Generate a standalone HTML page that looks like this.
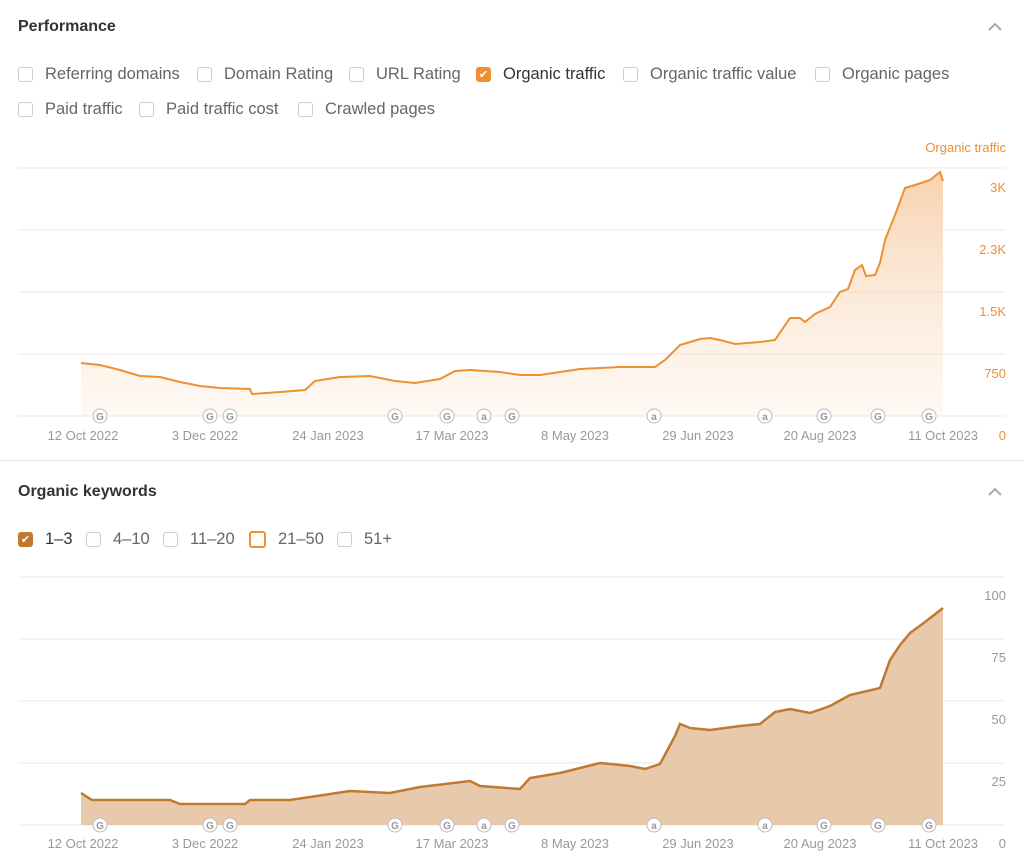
<!DOCTYPE html>
<html><head><meta charset="utf-8"><style>
body{margin:0;width:1024px;height:865px;background:#fff;font-family:"Liberation Sans",sans-serif;position:relative;overflow:hidden}
.t{position:absolute;font-weight:bold;font-size:16px;color:#333}
.cb{position:absolute;font-size:16.5px;color:#666;display:flex;align-items:center}
.cb i{display:inline-block;width:15px;height:15px;border:1px solid #ccc;border-radius:3px;margin-right:12px;box-sizing:border-box}
</style></head><body>
<div class="t" style="left:18px;top:18px">Performance</div>
<div class="t" style="left:18px;top:483px">Organic keywords</div>
<svg style="position:absolute;left:985px;top:20px" width="20" height="14"><path d="M4 10 L10 4 L16 10" stroke="#aaa" stroke-width="2" fill="none"/></svg>
<svg style="position:absolute;left:985px;top:485px" width="20" height="14"><path d="M4 10 L10 4 L16 10" stroke="#aaa" stroke-width="2" fill="none"/></svg>
<div class="cb" style="left:18px;top:65px"><i></i>Referring domains</div>
<div class="cb" style="left:197px;top:65px"><i></i>Domain Rating</div>
<div class="cb" style="left:349px;top:65px"><i></i>URL Rating</div>
<div class="cb" style="left:476px;top:65px;color:#333"><i style="background:#ef8f33;border-color:#ef8f33;color:#fff;font-size:11px;text-align:center;line-height:15px;font-style:normal">✔</i>Organic traffic</div>
<div class="cb" style="left:623px;top:65px"><i></i>Organic traffic value</div>
<div class="cb" style="left:815px;top:65px"><i></i>Organic pages</div>
<div class="cb" style="left:18px;top:100px"><i></i>Paid traffic</div>
<div class="cb" style="left:139px;top:100px"><i></i>Paid traffic cost</div>
<div class="cb" style="left:298px;top:100px"><i></i>Crawled pages</div>
<div class="cb" style="left:18px;top:530px;color:#333"><i style="background:#c07a30;border-color:#c07a30;color:#fff;font-size:11px;text-align:center;line-height:15px;font-style:normal">✔</i>1–3</div>
<div class="cb" style="left:86px;top:530px"><i></i>4–10</div>
<div class="cb" style="left:163px;top:530px"><i></i>11–20</div>
<div class="cb" style="left:249px;top:530px"><i style="border:2px solid #ef8f33;width:17px;height:17px"></i>21–50</div>
<div class="cb" style="left:337px;top:530px"><i></i>51+</div>
<div style="position:absolute;left:0;top:460px;width:1024px;height:1px;background:#e6e6e6"></div>
<svg style="position:absolute;left:0;top:0" width="1024" height="865" font-family="Liberation Sans" font-size="13">
<defs><linearGradient id="g1" x1="0" y1="0" x2="0" y2="1"><stop offset="0" stop-color="#f6c79c" stop-opacity=".8"/><stop offset="1" stop-color="#fde9d8" stop-opacity=".3"/></linearGradient></defs>
<g stroke="#e8e8e8"><line x1="18" x2="1005" y1="168" y2="168"/><line x1="18" x2="1005" y1="230" y2="230"/><line x1="18" x2="1005" y1="292" y2="292"/><line x1="18" x2="1005" y1="354" y2="354"/><line x1="18" x2="1005" y1="416" y2="416"/>
<line x1="18" x2="1005" y1="577" y2="577"/><line x1="18" x2="1005" y1="639" y2="639"/><line x1="18" x2="1005" y1="701" y2="701"/><line x1="18" x2="1005" y1="763" y2="763"/><line x1="18" x2="1005" y1="825" y2="825"/></g>
<polygon fill="url(#g1)" points="81,416 81,363 100,365 120,370 140,376 160,377 180,382 200,386 220,388 250,389 252,394 280,392 305,390 315,381 340,377 370,376 395,381 415,383 440,379 455,371 470,370 500,372 520,375 540,375 560,372 580,369 620,367 655,367 665,360 680,345 700,339 710,338 720,340 735,344 760,342 775,340 790,318 800,318 805,322 815,314 830,307 840,292 848,289 855,270 862,265 866,276 875,275 880,263 885,240 895,215 905,188 915,185 930,180 940,172 943,181 943,416"/>
<polyline fill="none" stroke="#ef8f33" stroke-width="2" points="81,363 100,365 120,370 140,376 160,377 180,382 200,386 220,388 250,389 252,394 280,392 305,390 315,381 340,377 370,376 395,381 415,383 440,379 455,371 470,370 500,372 520,375 540,375 560,372 580,369 620,367 655,367 665,360 680,345 700,339 710,338 720,340 735,344 760,342 775,340 790,318 800,318 805,322 815,314 830,307 840,292 848,289 855,270 862,265 866,276 875,275 880,263 885,240 895,215 905,188 915,185 930,180 940,172 943,181"/>
<polygon fill="#e8c9ab" points="81,825 81,793 92,800 170,800 180,804 245,804 250,800 290,800 310,797 350,791 390,793 420,787 470,781 480,786 520,789 530,778 560,773 600,763 630,766 645,769 660,764 675,736 680,724 690,728 710,730 740,726 760,724 775,712 790,709 810,713 830,706 850,695 880,688 890,660 900,645 910,633 925,622 943,608 943,825"/>
<polyline fill="none" stroke="#c07a30" stroke-width="2.5" points="81,793 92,800 170,800 180,804 245,804 250,800 290,800 310,797 350,791 390,793 420,787 470,781 480,786 520,789 530,778 560,773 600,763 630,766 645,769 660,764 675,736 680,724 690,728 710,730 740,726 760,724 775,712 790,709 810,713 830,706 850,695 880,688 890,660 900,645 910,633 925,622 943,608"/>
<g fill="#ef8f33" text-anchor="end"><text x="1006" y="152">Organic traffic</text><text x="1006" y="192">3K</text><text x="1006" y="254">2.3K</text><text x="1006" y="316">1.5K</text><text x="1006" y="378">750</text><text x="1006" y="440">0</text></g>
<g fill="#999" text-anchor="end"><text x="1006" y="600">100</text><text x="1006" y="662">75</text><text x="1006" y="724">50</text><text x="1006" y="786">25</text><text x="1006" y="848">0</text></g>
<g fill="#999" text-anchor="middle"><text x="83" y="440">12 Oct 2022</text><text x="205" y="440">3 Dec 2022</text><text x="328" y="440">24 Jan 2023</text><text x="452" y="440">17 Mar 2023</text><text x="575" y="440">8 May 2023</text><text x="698" y="440">29 Jun 2023</text><text x="820" y="440">20 Aug 2023</text><text x="943" y="440">11 Oct 2023</text>
<text x="83" y="848">12 Oct 2022</text><text x="205" y="848">3 Dec 2022</text><text x="328" y="848">24 Jan 2023</text><text x="452" y="848">17 Mar 2023</text><text x="575" y="848">8 May 2023</text><text x="698" y="848">29 Jun 2023</text><text x="820" y="848">20 Aug 2023</text><text x="943" y="848">11 Oct 2023</text></g>
<g font-size="10" font-weight="bold" fill="#999" text-anchor="middle">
<g transform="translate(0,416)"><circle cx="100" r="7" fill="#fff" stroke="#bbb"/><text x="100" y="4">G</text><circle cx="210" r="7" fill="#fff" stroke="#bbb"/><text x="210" y="4">G</text><circle cx="230" r="7" fill="#fff" stroke="#bbb"/><text x="230" y="4">G</text><circle cx="395" r="7" fill="#fff" stroke="#bbb"/><text x="395" y="4">G</text><circle cx="447" r="7" fill="#fff" stroke="#bbb"/><text x="447" y="4">G</text><circle cx="484" r="7" fill="#fff" stroke="#bbb"/><text x="484" y="4">a</text><circle cx="512" r="7" fill="#fff" stroke="#bbb"/><text x="512" y="4">G</text><circle cx="654" r="7" fill="#fff" stroke="#bbb"/><text x="654" y="4">a</text><circle cx="765" r="7" fill="#fff" stroke="#bbb"/><text x="765" y="4">a</text><circle cx="824" r="7" fill="#fff" stroke="#bbb"/><text x="824" y="4">G</text><circle cx="878" r="7" fill="#fff" stroke="#bbb"/><text x="878" y="4">G</text><circle cx="929" r="7" fill="#fff" stroke="#bbb"/><text x="929" y="4">G</text></g>
<g transform="translate(0,825)"><circle cx="100" r="7" fill="#fff" stroke="#bbb"/><text x="100" y="4">G</text><circle cx="210" r="7" fill="#fff" stroke="#bbb"/><text x="210" y="4">G</text><circle cx="230" r="7" fill="#fff" stroke="#bbb"/><text x="230" y="4">G</text><circle cx="395" r="7" fill="#fff" stroke="#bbb"/><text x="395" y="4">G</text><circle cx="447" r="7" fill="#fff" stroke="#bbb"/><text x="447" y="4">G</text><circle cx="484" r="7" fill="#fff" stroke="#bbb"/><text x="484" y="4">a</text><circle cx="512" r="7" fill="#fff" stroke="#bbb"/><text x="512" y="4">G</text><circle cx="654" r="7" fill="#fff" stroke="#bbb"/><text x="654" y="4">a</text><circle cx="765" r="7" fill="#fff" stroke="#bbb"/><text x="765" y="4">a</text><circle cx="824" r="7" fill="#fff" stroke="#bbb"/><text x="824" y="4">G</text><circle cx="878" r="7" fill="#fff" stroke="#bbb"/><text x="878" y="4">G</text><circle cx="929" r="7" fill="#fff" stroke="#bbb"/><text x="929" y="4">G</text></g>
</g>
</svg>
</body></html>
